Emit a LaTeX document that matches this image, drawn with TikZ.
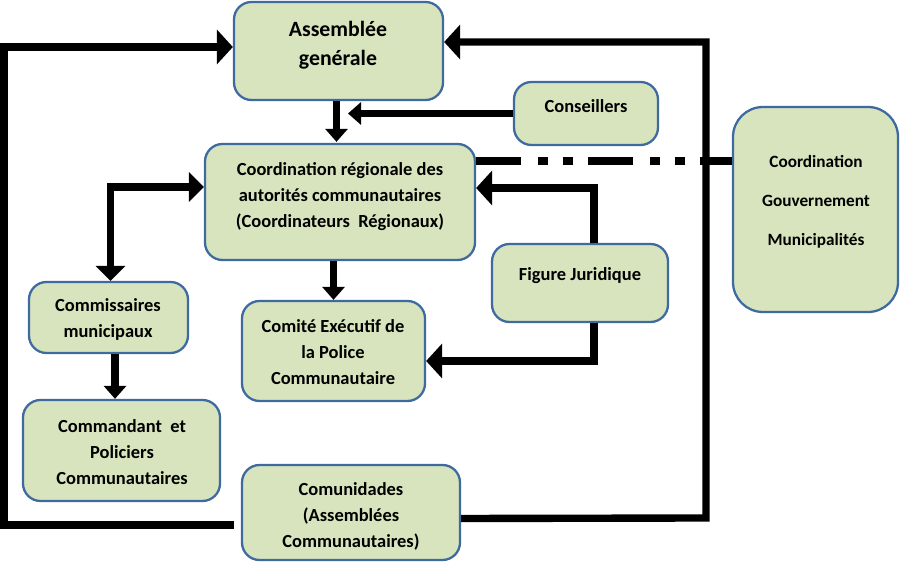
\documentclass[tikz,border=0pt]{standalone}
\usepackage{fontspec}
\setmainfont{Carlito}
\usetikzlibrary{arrows.meta,positioning,calc,fit}
\definecolor{boxgreen}{RGB}{215,228,189}
\definecolor{boxblue}{RGB}{62,106,160}

\begin{document}
\begin{tikzpicture}[x=0.02cm, y=-0.02cm, >={Triangle[width=0.44cm,length=0.26cm]},
    box/.style={draw=boxblue, fill=boxgreen, line width=1.3pt, rounded corners=0.35cm, inner sep=0pt},
    txt/.style={font=\bfseries\fontsize{10.5}{14.8}\selectfont, align=center, inner sep=0pt},
    link/.style={line width=4.2pt},
    wide/.style={-{Triangle[width=0.68cm,length=0.32cm]}},
    both/.style={{Triangle[width=0.58cm,length=0.3cm]}-{Triangle[width=0.58cm,length=0.3cm]}},
    dashdot/.style={line width=4.2pt, dash pattern=on 0.9cm off 0.34cm on 0.2cm off 0.3cm on 0.2cm off 0.3cm}]
  \useasboundingbox (0,0) rectangle (900,580);

  \node[box, fit={(234,2) (443,100)}] (ag) {};
  \node[box, fit={(514,82) (658,145)}] (cs) {};
  \node[box, fit={(205,144) (475,260)}] (cr) {};
  \node[box, rounded corners=0.6cm, fit={(733,107) (898,312)}] (gv) {};
  \node[box, fit={(492,244) (668,322)}] (fj) {};
  \node[box, fit={(29,282) (188,353)}] (cmm) {};
  \node[box, fit={(242,301) (425,401)}] (ce) {};
  \node[box, fit={(23,400) (220,501)}] (cd) {};
  \node[box, fit={(242,465) (460,560)}] (cm) {};

  \node[txt, font=\bfseries\fontsize{12.4}{16.5}\selectfont] (ag-t) at (338,45) {Assemblée\\genérale};
  \node[txt] (cs-t) at (586,106) {Conseillers};
  \node[txt] (cr-t) at (340,197) {Coordination régionale des\\autorités communautaires\\(Coordinateurs\ \ Régionaux)};
  \node[txt, font=\bfseries\fontsize{9.8}{22.2}\selectfont] (gv-t) at (816,202) {Coordination\\Gouvernement\\Municipalités};
  \node[txt] (fj-t) at (580,276) {Figure Juridique};
  \node[txt] (cmm-t) at (108,319) {Commissaires\\municipaux};
  \node[txt] (ce-t) at (333,352) {Comité Exécutif de\\la Police\\Communautaire};
  \node[txt] (cd-t) at (122,452) {Commandant\ \ et\\Policiers\\Communautaires};
  \node[txt] (cm-t) at (351,516) {Comunidades\\(Assemblées\\Communautaires)};

  \coordinate (cm-l) at (234,525);
  \coordinate (cs-end) at (348,0);
  \coordinate (ag-s) at ($(ag.south)+(-2,0)$);
  \coordinate (dd) at ($(cr.north east)+(0,18)$);

  \draw[link, wide] (cm-l) -- (4,525) |- ($(ag.west)+(0,-4)$);
  \draw[link, wide] ($(cm.east)+(0,6)$) -- (706,518) |- ($(ag.east)+(0,-9)$);
  \draw[link, ->] (ag-s) -- ($(ag-s |- cr.north)+(0,-1)$);
  \draw[link, ->] (cs.west) -- (cs.west -| cs-end);
  \draw[dashdot] (dd) -- (dd -| gv.west);
  \draw[link, both] ($(cr.west)+(0,-15)$) -| ($(cmm.north)+(2,0)$);
  \draw[link, ->] (ce.north |- cr.south) -- (ce.north);
  \draw[link, wide] ($(fj.north)+(14,0)$) |- ($(cr.east)+(0,-14)$);
  \draw[link, wide] ($(fj.south)+(14,0)$) |- ($(ce.east)+(0,10)$);
  \draw[link, ->] (115,353 |- cmm.south) -- (115,0 |- cd.north);
\end{tikzpicture}
\end{document}
